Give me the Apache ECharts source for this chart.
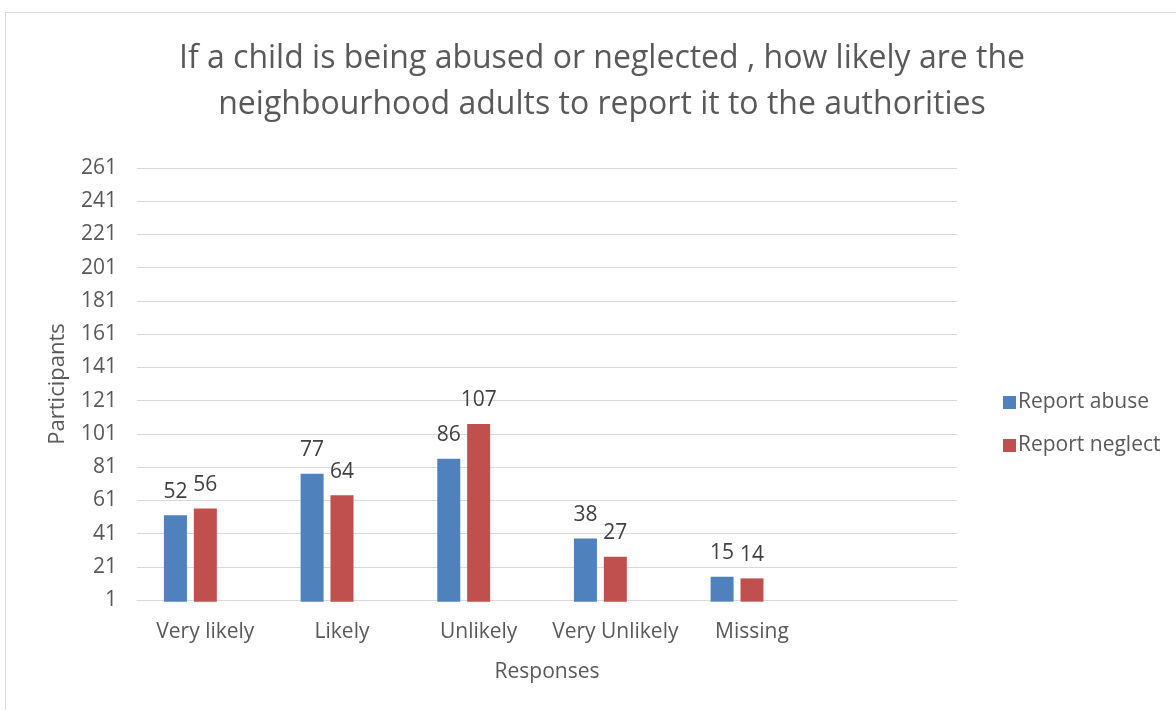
<!DOCTYPE html>
<html>
<head>
<meta charset="utf-8">
<script src="https://cdn.jsdelivr.net/npm/echarts@6/dist/echarts.min.js"></script>
<style>
  html, body { margin: 0; padding: 0; background: #fff; }
  #frame { position: absolute; left: 5px; top: 12px; width: 1171px; height: 698px;
           border-left: 1px solid #d9d9d9; border-top: 1px solid #d9d9d9; }
  #chart { position: absolute; left: 0; top: 0; width: 1176px; height: 710px; }
</style>
</head>
<body>
<div id="frame"></div>
<div id="chart"></div>
<script>
const categories = ['Very likely', 'Likely', 'Unlikely', 'Very Unlikely', 'Missing', ''];
const reportAbuse = [52, 77, 86, 38, 15, 0];
const reportNeglect = [56, 64, 107, 27, 14, null];
// third column slot in each group is left empty
const emptySlot = [null, null, null, null, null, null];
const yMin = 1;
const yMax = 261;
const yStep = 20;

const FONT = '"Open Sans", "Noto Sans", sans-serif';
const TEXT = '#595959';

const chart = echarts.init(document.getElementById('chart'), null, { renderer: 'canvas' });

const labelCfg = {
  show: true,
  position: 'top',
  distance: 13,
  color: '#404040',
  fontSize: 21,
  fontFamily: FONT,
  formatter: p => (p.dataIndex === 5 ? '' : String(p.value))
};

const BAR_W = 23;
const BAR_GAP = '30%';

chart.setOption({
  backgroundColor: 'transparent',
  animation: false,
  title: {
    text: 'If a child is being abused or neglected , how likely are the\nneighbourhood adults to report it to the authorities',
    left: 597,
    top: 31,
    textAlign: 'center',
    textStyle: { color: TEXT, fontSize: 32, fontWeight: 'normal', fontFamily: FONT, lineHeight: 46 }
  },
  legend: {
    orient: 'vertical',
    left: 998,
    top: 387,
    itemWidth: 13,
    itemHeight: 13,
    itemGap: 22,
    icon: 'rect',
    textStyle: { color: TEXT, fontSize: 21, fontFamily: FONT, padding: [0, 0, 0, -3] },
    data: ['Report abuse', 'Report neglect']
  },
  grid: { left: 137, right: 219, top: 168, bottom: 110, containLabel: false },
  xAxis: {
    type: 'category',
    data: categories,
    name: 'Responses',
    nameLocation: 'middle',
    nameGap: 62,
    nameTextStyle: { color: TEXT, fontSize: 21, fontFamily: FONT },
    axisLine: { show: true, lineStyle: { color: '#d9d9d9', width: 1 } },
    axisTick: { show: false },
    axisLabel: { color: TEXT, fontSize: 21, fontFamily: FONT, margin: 22, interval: 0 }
  },
  yAxis: {
    type: 'value',
    min: yMin,
    max: yMax,
    interval: yStep,
    name: 'Participants',
    nameLocation: 'middle',
    nameGap: 68,
    nameTextStyle: { color: TEXT, fontSize: 22, fontFamily: FONT },
    axisLine: { show: false },
    axisTick: { show: false },
    axisLabel: { color: TEXT, fontSize: 21, fontFamily: FONT, margin: 20 },
    splitLine: { lineStyle: { color: '#d9d9d9', width: 1 } }
  },
  series: [
    {
      name: 'Report abuse',
      type: 'bar',
      data: reportAbuse,
      barWidth: BAR_W,
      barGap: BAR_GAP,
      clip: false,
      itemStyle: { color: '#4f81bd' },
      label: labelCfg
    },
    {
      name: 'Report neglect',
      type: 'bar',
      data: reportNeglect,
      barWidth: BAR_W,
      barGap: BAR_GAP,
      clip: false,
      itemStyle: { color: '#c0504d' },
      label: labelCfg
    },
    {
      name: 'empty',
      type: 'bar',
      data: emptySlot,
      barWidth: BAR_W,
      barGap: BAR_GAP,
      itemStyle: { color: '#9bbb59' }
    }
  ]
});
</script>
</body>
</html>
